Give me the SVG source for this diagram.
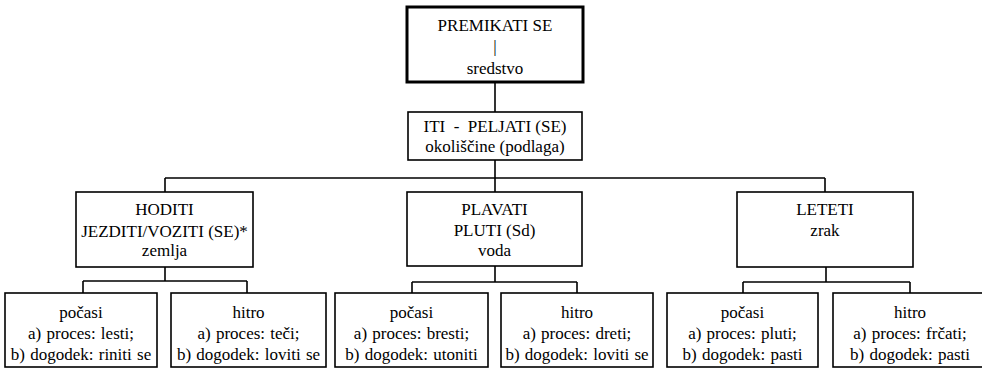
<svg xmlns="http://www.w3.org/2000/svg" width="982" height="369" viewBox="0 0 982 369">
<style>
  .box { fill: #fff; stroke: #000; stroke-width: 1.6; }
  .top { fill: #fff; stroke: #000; stroke-width: 3; }
  .conn { fill: none; stroke: #000; stroke-width: 1.6; }
  text { font-family: "Liberation Serif", "Times New Roman", serif; fill: #000; text-anchor: middle; }
  .t { font-size: 17px; }
  .s { font-size: 17px; word-spacing: 1px; }
</style>
<rect width="982" height="369" fill="#fff"/>
<g id="connectors">
  <path class="conn" d="M495,82 V112"/>
  <path class="conn" d="M495,160 V178 M165,178 H825 M165,178 V192 M495,178 V192 M825,178 V192"/>
  <path class="conn" d="M165,267 V281 M83,281 H247 M83,281 V293 M247,281 V293"/>
  <path class="conn" d="M495,266 V282 M412,282 H577 M412,282 V293 M577,282 V293"/>
  <path class="conn" d="M826,267 V282 M743,282 H910 M743,282 V293 M910,282 V293"/>
</g>
<g id="premikati">
  <rect class="top" x="407" y="7" width="176" height="75"/>
  <text class="t" x="495" y="31">PREMIKATI SE</text>
  <text class="t" x="495" y="52">|</text>
  <text class="t" x="495" y="74">sredstvo</text>
</g>
<g id="iti">
  <rect class="box" x="408" y="112" width="174" height="48"/>
  <text class="t" x="495" y="132" xml:space="preserve">ITI  -  PELJATI (SE)</text>
  <text class="t" x="495" y="152">okoliščine (podlaga)</text>
</g>
<g id="hoditi">
  <rect class="box" x="76" y="192" width="177" height="75"/>
  <text class="t" x="164.5" y="215">HODITI</text>
  <text class="t" x="164.5" y="237">JEZDITI/VOZITI (SE)*</text>
  <text class="t" x="164.5" y="256">zemlja</text>
</g>
<g id="plavati">
  <rect class="box" x="407" y="192" width="175" height="74"/>
  <text class="t" x="494.5" y="215">PLAVATI</text>
  <text class="t" x="494.5" y="236">PLUTI (Sd)</text>
  <text class="t" x="494.5" y="256">voda</text>
</g>
<g id="leteti">
  <rect class="box" x="737" y="192" width="176" height="75"/>
  <text class="t" x="825" y="215">LETETI</text>
  <text class="t" x="825" y="236">zrak</text>
</g>
<g id="hoditi-pocasi">
  <rect class="box" x="5" y="293" width="152" height="74"/>
  <text class="s" x="81" y="318">počasi</text>
  <text class="s" x="81" y="339">a) proces: lesti;</text>
  <text class="s" x="81" y="360">b) dogodek: riniti se</text>
</g>
<g id="hoditi-hitro">
  <rect class="box" x="171" y="293" width="155" height="74"/>
  <text class="s" x="248.5" y="318">hitro</text>
  <text class="s" x="248.5" y="339">a) proces: teči;</text>
  <text class="s" x="248.5" y="360">b) dogodek: loviti se</text>
</g>
<g id="plavati-pocasi">
  <rect class="box" x="335" y="293" width="153" height="74"/>
  <text class="s" x="411.5" y="318">počasi</text>
  <text class="s" x="411.5" y="339">a) proces: bresti;</text>
  <text class="s" x="411.5" y="360">b) dogodek: utoniti</text>
</g>
<g id="plavati-hitro">
  <rect class="box" x="501" y="293" width="152" height="74"/>
  <text class="s" x="577" y="318">hitro</text>
  <text class="s" x="577" y="339">a) proces: dreti;</text>
  <text class="s" x="577" y="360">b) dogodek: loviti se</text>
</g>
<g id="leteti-pocasi">
  <rect class="box" x="667" y="293" width="151" height="74"/>
  <text class="s" x="742.5" y="318">počasi</text>
  <text class="s" x="742.5" y="339">a) proces: pluti;</text>
  <text class="s" x="742.5" y="360">b) dogodek: pasti</text>
</g>
<g id="leteti-hitro">
  <rect class="box" x="833" y="293" width="155" height="74"/>
  <text class="s" x="910" y="318">hitro</text>
  <text class="s" x="910" y="339">a) proces: frčati;</text>
  <text class="s" x="910" y="360">b) dogodek: pasti</text>
</g>
</svg>
